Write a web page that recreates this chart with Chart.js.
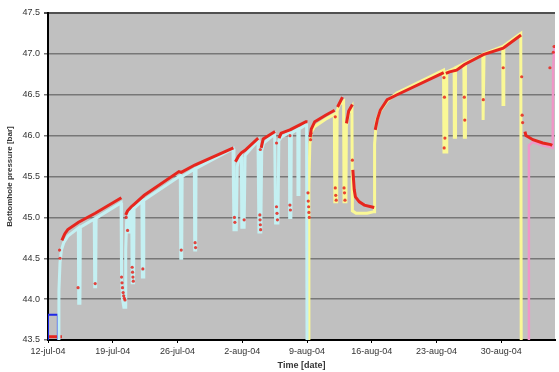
<!DOCTYPE html>
<html>
<head>
<meta charset="utf-8">
<title>Bottomhole pressure</title>
<script src="https://cdn.jsdelivr.net/npm/chart.js@4/dist/chart.umd.min.js"></script>
<style>
  html, body { margin: 0; padding: 0; background: #ffffff; }
  #wrap { width: 559px; height: 372px; }
</style>
</head>
<body>
<div id="wrap"><canvas id="chart" width="559" height="372"></canvas></div>
<script>
// x = days after 12-jul-04, y = bottomhole pressure [bar]
const xTickDays = [0, 7, 14, 21, 28, 35, 42, 49];
const xTickLabels = ['12-jul-04', '19-jul-04', '26-jul-04', '2-aug-04', '9-aug-04', '16-aug-04', '23-aug-04', '30-aug-04'];
const yTicks = [43.5, 44.0, 44.5, 45.0, 45.5, 46.0, 46.5, 47.0, 47.5];

// first test period (cyan)
const cyanPts = [
  [1.12, 43.3], [1.18, 44.1], [1.3, 44.45], [1.45, 44.6], [1.7, 44.69], [2.14, 44.77],
  [3.28, 44.87], [3.32, 43.95], [3.45, 43.95], [3.5, 44.88],
  [5.0, 44.98], [5.05, 44.15], [5.15, 44.15], [5.2, 44.99],
  [7.9, 45.18], [7.95, 44.3], [8.05, 44.0], [8.2, 43.9], [8.35, 43.9], [8.4, 44.6], [8.5, 44.96], [8.7, 45.02],
  [8.75, 44.82], [8.85, 44.82], [8.9, 45.06],
  [9.05, 45.08], [9.1, 44.2], [9.25, 44.2], [9.3, 45.11],
  [10.15, 45.2], [10.2, 44.27], [10.3, 44.27], [10.35, 45.21],
  [14.3, 45.51], [14.35, 44.5], [14.45, 44.5], [14.5, 45.5],
  [15.82, 45.59], [15.86, 44.6], [15.96, 44.6], [16.0, 45.6],
  [20.0, 45.84], [20.1, 44.85], [20.35, 44.85], [20.45, 45.62], [20.6, 45.7], [20.9, 45.74],
  [20.95, 44.88], [21.2, 44.88], [21.3, 45.76],
  [22.7, 45.94], [22.8, 44.82], [23.0, 44.82], [23.1, 45.82], [23.3, 45.91],
  [24.5, 46.02], [24.6, 44.93], [24.85, 44.93], [24.95, 45.94], [25.2, 45.98],
  [26.1, 46.04], [26.12, 45.0], [26.25, 45.0], [26.3, 46.03],
  [27.0, 46.08], [27.02, 45.28], [27.12, 45.28], [27.15, 46.08],
  [27.95, 46.14], [28.0, 43.3]
];

// second test period (yellow)
const yellowPts = [
  [28.15, 43.3], [28.2, 45.4], [28.3, 45.9], [28.45, 46.04], [28.8, 46.11], [30.0, 46.2], [30.95, 46.26],
  [31.0, 45.19], [31.2, 45.19], [31.25, 46.3], [31.5, 46.38], [31.95, 46.42],
  [32.0, 45.19], [32.2, 45.19], [32.25, 46.12], [32.5, 46.28], [32.85, 46.35],
  [32.9, 45.08], [33.3, 45.05], [34.5, 45.05], [35.25, 45.07], [35.3, 45.9], [35.5, 46.18], [35.9, 46.3],
  [36.7, 46.43], [37.7, 46.52], [42.75, 46.8],
  [42.8, 45.8], [43.05, 45.8], [43.1, 46.78], [43.9, 46.82], [43.92, 45.98], [44.0, 45.98], [44.05, 46.83],
  [44.95, 46.88], [45.0, 45.98], [45.08, 45.98], [45.12, 46.89],
  [47.0, 46.99], [47.03, 46.19], [47.1, 46.19], [47.13, 47.0],
  [49.15, 47.09], [49.18, 46.38], [49.25, 46.38], [49.28, 47.1],
  [51.1, 47.25], [51.15, 43.3]
];

// third period (pink)
const pinkPts = [
  [51.98, 43.3], [51.98, 45.88], [52.4, 45.92], [53.5, 45.88], [54.3, 45.86], [54.55, 45.85],
  [54.6, 46.8], [54.7, 47.05], [54.85, 47.1]
];

// measured pressure trend (red), null = gap
const redTrend = [
  [1.5, 44.72], [1.82, 44.8], [2.14, 44.85], [3.3, 44.94], [5.1, 45.05], [7.93, 45.24], [7.95, null],
  [8.4, 45.03], [8.6, 45.08], [9.0, 45.13], [9.3, 45.16], [10.4, 45.27], [14.15, 45.56], [14.4, 45.55],
  [15.86, 45.64], [20.04, 45.85], [20.1, null],
  [20.26, 45.68], [20.6, 45.75], [20.9, 45.79], [21.3, 45.82], [22.72, 45.97], [22.8, null],
  [23.04, 45.85], [23.26, 45.96], [24.54, 46.05], [24.6, null],
  [24.97, 45.97], [25.2, 46.03], [26.15, 46.07], [27.0, 46.12], [27.87, 46.17], [28.05, 46.17], [28.1, null],
  [28.35, 45.98], [28.45, 46.08], [28.83, 46.17], [30.0, 46.25], [30.98, 46.31], [31.0, null],
  [31.3, 46.35], [31.83, 46.47], [31.9, null],
  [32.26, 46.15], [32.5, 46.3], [32.9, 46.38], [32.92, null],
  [32.95, 45.58], [33.1, 45.34], [33.23, 45.25], [33.65, 45.19], [34.19, 45.15], [35.26, 45.12], [35.3, null],
  [35.37, 46.07], [35.6, 46.2], [35.91, 46.31], [36.66, 46.44], [37.73, 46.5], [42.77, 46.77], [42.8, null],
  [43.0, 46.76], [43.4, 46.78], [44.16, 46.8], [45.02, 46.87], [47.05, 46.99], [49.2, 47.07], [51.13, 47.23], [51.2, null],
  [51.55, 46.05], [51.66, 46.0], [52.41, 45.95], [53.48, 45.91], [54.34, 45.89], [54.5, 45.88]
];

// scattered measured points during drawdowns
const redDots = [
  [1.25, 44.6], [1.3, 44.5], [3.25, 44.14], [5.1, 44.19],
  [7.95, 44.27], [8.0, 44.2], [8.05, 44.14], [8.12, 44.08], [8.18, 44.04], [8.25, 44.01], [8.32, 43.99],
  [8.45, 45.0], [8.6, 44.84],
  [9.1, 44.39], [9.14, 44.33], [9.18, 44.27], [9.22, 44.22], [10.25, 44.37],
  [14.4, 44.6], [15.9, 44.69], [15.95, 44.63],
  [20.15, 45.0], [20.2, 44.94], [21.2, 44.97],
  [22.9, 45.03], [22.92, 44.97], [22.95, 44.91], [22.98, 44.85], [22.95, 45.83],
  [24.7, 45.13], [24.75, 45.05], [24.8, 44.97], [24.7, 45.91],
  [26.15, 45.15], [26.2, 45.09], [26.15, 46.0],
  [28.1, 45.3], [28.13, 45.2], [28.17, 45.13], [28.2, 45.06], [28.24, 45.0], [28.38, 45.95], [28.42, 46.03],
  [31.05, 45.36], [31.1, 45.27], [31.15, 45.21], [31.05, 46.23],
  [32.0, 45.36], [32.05, 45.3], [32.1, 45.21], [32.9, 45.7],
  [42.8, 46.71], [42.85, 46.47], [42.9, 45.97], [42.82, 45.85],
  [45.0, 46.47], [45.05, 46.19], [47.05, 46.44], [49.2, 46.83],
  [51.2, 46.72], [51.25, 46.25], [51.3, 46.16],
  [54.25, 46.83], [54.62, 47.02], [54.7, 47.09]
];

const bluePts = [[0, 43.4], [0, 43.81], [1.07, 43.81], [1.07, 43.4]];
const redBasePts = [[0, 43.54], [1.5, 43.54]];

const toXY = pts => pts.map(p => ({ x: p[0], y: p[1] }));

const lineSet = (pts, color, width) => ({
  data: toXY(pts),
  showLine: true,
  borderColor: color,
  borderWidth: width,
  pointRadius: 0,
  fill: false,
  tension: 0,
  spanGaps: false
});

const RED = 'rgb(230, 38, 30)';

// grey plot area like the spreadsheet original
const plotBg = {
  id: 'plotBg',
  beforeDraw(chart) {
    const { ctx, chartArea: a } = chart;
    ctx.save();
    ctx.fillStyle = '#c0c0c0';
    ctx.fillRect(a.left, a.top, a.right - a.left, a.bottom - a.top);
    ctx.restore();
  }
};

const tickFont = { family: 'Liberation Sans, Arial, sans-serif', size: 9 };
const titleFont = { family: 'Liberation Sans, Arial, sans-serif', size: 9, weight: 'bold' };

new Chart(document.getElementById('chart'), {
  type: 'scatter',
  data: {
    datasets: [
      {
        data: toXY(redDots),
        showLine: false,
        pointRadius: 1.6,
        pointBackgroundColor: 'rgba(230, 38, 30, 0.85)',
        pointBorderWidth: 0
      },
      lineSet(redTrend, RED, 3),
      lineSet(cyanPts, 'rgb(196, 240, 242)', 3),
      lineSet(yellowPts, 'rgb(250, 248, 150)', 3),
      lineSet(pinkPts, 'rgb(240, 150, 200)', 2.5),
      lineSet(bluePts, 'rgb(30, 40, 230)', 2),
      lineSet(redBasePts, RED, 3)
    ]
  },
  options: {
    responsive: false,
    animation: false,
    devicePixelRatio: 1,
    layout: { padding: { top: 13, right: 0, bottom: 0, left: 0 } },
    plugins: {
      legend: { display: false },
      tooltip: { enabled: false }
    },
    scales: {
      x: {
        type: 'linear',
        min: 0,
        max: 54.8,
        afterBuildTicks: s => { s.ticks = xTickDays.map(v => ({ value: v })); },
        afterFit: s => { s.height = 32; },
        ticks: {
          callback: (v, i) => xTickLabels[i],
          font: tickFont,
          color: '#333',
          padding: 3,
          maxRotation: 0,
          autoSkip: false
        },
        grid: { drawOnChartArea: false, tickLength: 3, color: '#000' },
        border: { color: '#000', width: 2 },
        title: {
          display: true,
          text: 'Time [date]',
          font: titleFont,
          color: '#333',
          padding: { top: 0, bottom: 1 }
        }
      },
      y: {
        min: 43.5,
        max: 47.5,
        afterBuildTicks: s => { s.ticks = yTicks.map(v => ({ value: v })); },
        afterFit: s => { s.width = 48; },
        ticks: {
          callback: v => v.toFixed(1),
          font: tickFont,
          color: '#333',
          padding: 4
        },
        grid: {
          color: ctx => ctx.tick && ctx.tick.value === 47.5 ? '#505050' : '#777777',
          lineWidth: ctx => ctx.tick && ctx.tick.value === 47.5 ? 2 : 1.5,
          tickLength: 4
        },
        border: { color: '#000', width: 2 },
        title: {
          display: true,
          text: 'Bottomhole pressure [bar]',
          font: { family: 'Liberation Sans, Arial, sans-serif', size: 8, weight: 'bold' },
          color: '#333',
          padding: { top: 5, bottom: 0 }
        }
      }
    }
  },
  plugins: [plotBg]
});
</script>
</body>
</html>
